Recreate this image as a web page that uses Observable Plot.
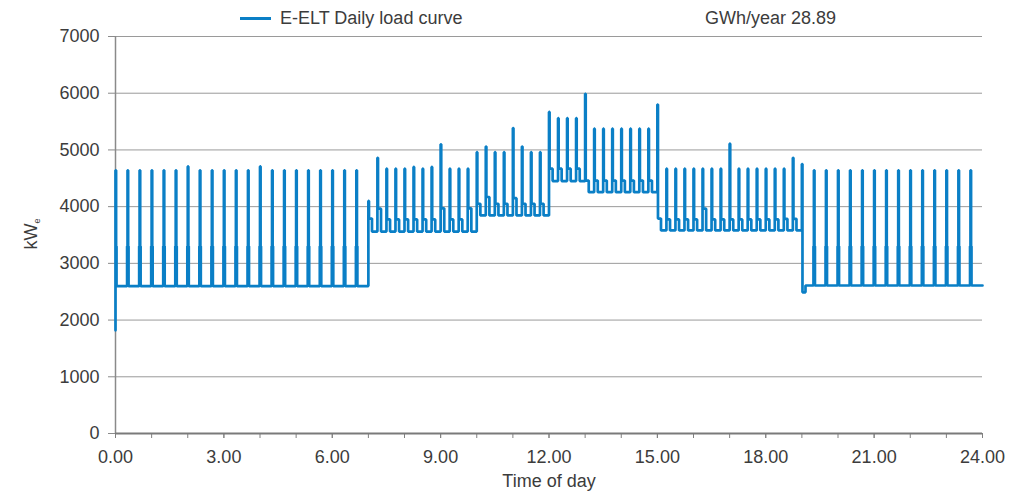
<!DOCTYPE html>
<html>
<head>
<meta charset="utf-8">
<script src="https://cdn.jsdelivr.net/npm/d3@7"></script>
<script src="https://cdn.jsdelivr.net/npm/@observablehq/plot@0.6"></script>
<style>
  html, body { margin: 0; padding: 0; background: #ffffff; }
  #wrap { position: relative; width: 1011px; height: 498px; overflow: hidden;
          font-family: "Liberation Sans", Arial, sans-serif; color: #3c3c3c; }
  .leg { position: absolute; top: 7px; font-size: 18px; line-height: 22px; white-space: nowrap; }
  .sw { position: absolute; left: 240px; top: 17px; width: 31px; height: 3px; background: #0a7fc6; }
</style>
</head>
<body>
<div id="wrap">
  <div class="sw"></div>
  <div class="leg" style="left:280px">E-ELT Daily load curve</div>
  <div class="leg" style="left:705px">GWh/year 28.89</div>
</div>
<script>
// Spike times (hours of day)
const spikeTimes = [
  0, 0.333, 0.667, 1, 1.333, 1.667, 2, 2.333, 2.667, 3, 3.333, 3.667, 4, 4.333, 4.667, 5, 5.333, 5.667, 6, 6.333, 6.667,
  7, 7.25, 7.5, 7.75, 8, 8.25, 8.5, 8.75, 9, 9.25, 9.5, 9.75, 10, 10.25, 10.5, 10.75, 11, 11.25, 11.5, 11.75,
  12, 12.25, 12.5, 12.75, 13, 13.25, 13.5, 13.75, 14, 14.25, 14.5, 14.75, 15,
  15.25, 15.5, 15.75, 16, 16.25, 16.5, 16.75, 17, 17.25, 17.5, 17.75, 18, 18.25, 18.5, 18.75, 19,
  19.333, 19.667, 20, 20.333, 20.667, 21, 21.333, 21.667, 22, 22.333, 22.667, 23, 23.333, 23.667
];
// Peak value of each spike (kWe)
const spikePeaks = [
  4640, 4640, 4640, 4640, 4640, 4640, 4710, 4640, 4640, 4640, 4640, 4640, 4710, 4640, 4640, 4640, 4640, 4640, 4640, 4640, 4640,
  4100, 4860, 4670, 4670, 4670, 4700, 4670, 4700, 5100, 4670, 4670, 4670, 4960, 5060, 4960, 4960, 5385, 5060, 4960, 4960,
  5670, 5560, 5560, 5560, 5990, 5375, 5375, 5375, 5375, 5375, 5375, 5375, 5800,
  4670, 4670, 4670, 4670, 4670, 4670, 4670, 5110, 4670, 4670, 4670, 4670, 4670, 4670, 4860, 4750,
  4640, 4640, 4640, 4640, 4640, 4640, 4640, 4640, 4640, 4640, 4640, 4640, 4640, 4640
];
// Shoulder level right after each spike (kWe)
const spikeShoulders = [
  3300, 3300, 3300, 3300, 3300, 3300, 3300, 3300, 3300, 3300, 3300, 3300, 3300, 3300, 3300, 3300, 3300, 3300, 3300, 3300, 3300,
  3790, 3965, 3775, 3775, 3775, 3775, 3775, 3775, 3970, 3775, 3775, 3970, 4050, 4170, 4050, 4050, 4150, 4050, 4050, 4050,
  4670, 4670, 4670, 4670, 4460, 4460, 4460, 4460, 4460, 4460, 4460, 4460, 3790,
  3775, 3775, 3775, 3775, 3965, 3775, 3775, 3775, 3775, 3775, 3775, 3775, 3775, 3785, 3785, 2490,
  3300, 3300, 3300, 3300, 3300, 3300, 3300, 3300, 3300, 3300, 3300, 3300, 3300, 3300
];
// Base load after each spike until the next one (kWe)
const baseLoads = [
  2600, 2600, 2600, 2600, 2600, 2600, 2600, 2600, 2600, 2600, 2600, 2600, 2600, 2600, 2600, 2600, 2600, 2600, 2600, 2600, 2600,
  3560, 3560, 3560, 3560, 3560, 3560, 3560, 3560, 3560, 3560, 3560, 3560, 3845, 3845, 3845, 3845, 3845, 3845, 3845, 3845,
  4450, 4450, 4450, 4450, 4255, 4255, 4255, 4255, 4255, 4255, 4255, 4255, 3580,
  3580, 3580, 3580, 3580, 3580, 3580, 3580, 3580, 3580, 3580, 3580, 3580, 3580, 3580, 3580, 2610,
  2610, 2610, 2610, 2610, 2610, 2610, 2610, 2610, 2610, 2610, 2610, 2610, 2610, 2610
];
const startValue = 1820;
const endValue = 2610;
const xTicks = [0, 3, 6, 9, 12, 15, 18, 21, 24];
const xMinorTicks = [0,1,2,3,4,5,6,7,8,9,10,11,12,13,14,15,16,17,18,19,20,21,22,23,24];
const yTicks = [0, 1000, 2000, 3000, 4000, 5000, 6000, 7000];

// Build the step curve from the read values
const pts = [{t: 0, v: startValue}];
spikeTimes.forEach((t, i) => {
  const peak = spikePeaks[i], sh = spikeShoulders[i], base = baseLoads[i];
  const narrow = sh > base && base < 3000;
  if (narrow && t - 0.7 / 60 > 0) pts.push({t: t - 0.7 / 60, v: sh});
  pts.push({t: t, v: peak});
  pts.push({t: t + 1 / 60, v: sh});
  pts.push({t: t + (narrow ? 1.7 : 6) / 60, v: base});
});
pts.push({t: 24, v: endValue});

const blue = "#0a7fc6";
const chart = Plot.plot({
  width: 1011,
  height: 498,
  marginLeft: 115,
  marginRight: 29,
  marginTop: 36,
  marginBottom: 65,
  style: {fontFamily: "Liberation Sans, Arial, sans-serif", fontSize: "18px", color: "#3c3c3c", background: "transparent"},
  x: {domain: [0, 24]},
  y: {domain: [0, 7000]},
  marks: [
    Plot.gridY(yTicks, {stroke: "#9a9a9a", strokeOpacity: 1, strokeWidth: 1}),
    Plot.ruleX([0], {stroke: "#8a8a8a", strokeWidth: 1.5}),
    Plot.axisY(yTicks, {tickSize: 7, tickPadding: 9, stroke: "#8a8a8a", label: null, tickFormat: d => String(d)}),
    Plot.axisX(xMinorTicks, {tickSize: 5, tickFormat: () => "", stroke: "#808080", label: null}),
    Plot.axisX(xTicks, {tickSize: 5, tickPadding: 12, stroke: "#808080", tickFormat: d => d.toFixed(2), label: null}),
    Plot.line(pts, {x: "t", y: "v", curve: "step-after", stroke: blue, strokeWidth: 2.7, strokeLinejoin: "miter"}),
    Plot.ruleY([0], {stroke: "#7a7a7a", strokeWidth: 2.2}),
    Plot.text(["Time of day"], {frameAnchor: "bottom", dy: 48, lineAnchor: "middle", fontSize: 18, fill: "#3c3c3c"})
  ]
});
// y-axis title with subscript
const svg = d3.select(chart);
const yt = svg.append("text")
  .attr("transform", "translate(37,234) rotate(-90)")
  .attr("text-anchor", "middle")
  .attr("fill", "#3c3c3c")
  .attr("font-size", 18);
yt.append("tspan").text("kW");
yt.append("tspan").attr("font-size", 9).attr("dy", 3).text("e");

chart.style.position = "absolute";
chart.style.left = "0px";
chart.style.top = "0px";
document.getElementById("wrap").prepend(chart);
</script>
</body>
</html>
